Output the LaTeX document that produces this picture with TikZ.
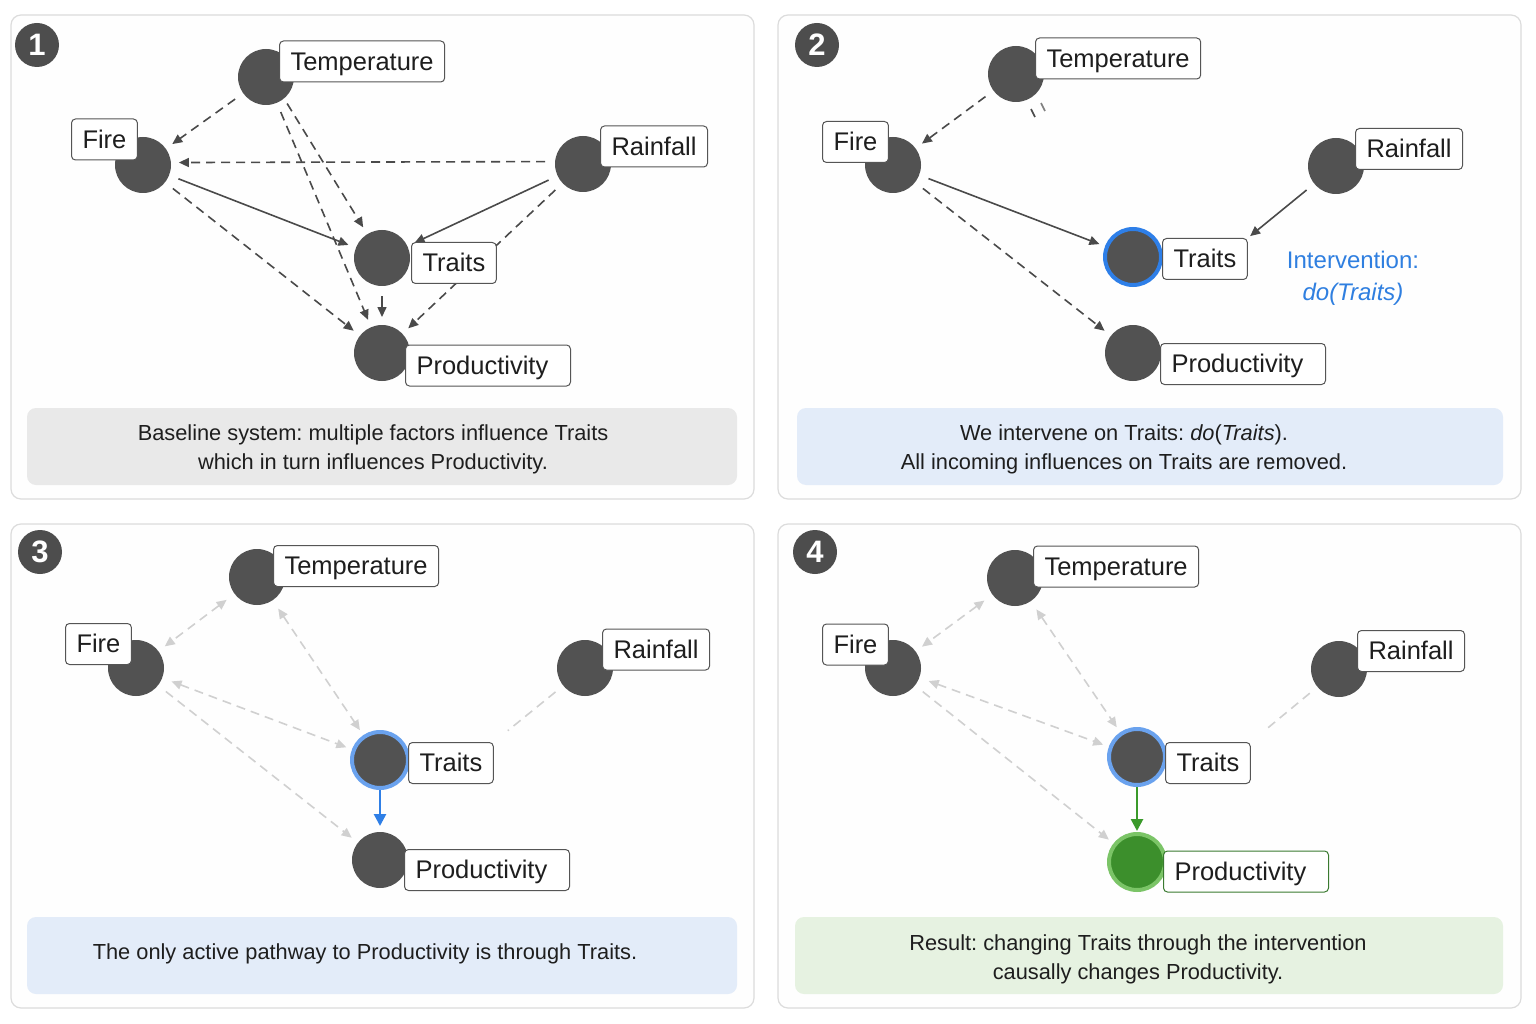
\documentclass[tikz,border=0pt]{standalone}
\usepackage{fontspec}
\setmainfont{Liberation Sans}
\usetikzlibrary{arrows.meta}
\pgfdeclarelayer{panels}
\pgfdeclarelayer{edges}
\pgfsetlayers{panels,edges,main}
\definecolor{dotc}{HTML}{525252}
\definecolor{lblc}{HTML}{555555}
\definecolor{txtc}{HTML}{1E1E1E}
\definecolor{edgec}{HTML}{4A4A4A}
\definecolor{ltc}{HTML}{D0D0D0}
\definecolor{panelborder}{HTML}{DCDCDC}
\definecolor{panelfill}{HTML}{FEFEFE}
\definecolor{capgray}{HTML}{E9E9E9}
\definecolor{capblue}{HTML}{E3ECF9}
\definecolor{capgreen}{HTML}{E6F2E1}
\definecolor{ringblue}{HTML}{2E7FE8}
\definecolor{ringlight}{HTML}{6AA2EE}
\definecolor{arrblue}{HTML}{2F7FE6}
\definecolor{greenfill}{HTML}{3C8F2C}
\definecolor{greenring}{HTML}{7BC467}
\definecolor{greenarr}{HTML}{3A9A2A}
\definecolor{greenlbl}{HTML}{3A7A30}
\definecolor{badgec}{HTML}{4D4D4D}
\definecolor{intblue}{HTML}{2F7FE0}
\frenchspacing
\begin{document}
\begin{tikzpicture}[x=1pt,y=-1pt,
  dot/.style={circle, fill=dotc, minimum size=56pt, inner sep=0pt, outer sep=0pt},
  ringdot/.style={dot, draw=#1, line width=4pt},
  lbl/.style={draw=lblc, fill=white, rounded corners=4pt, line width=1pt,
    inner xsep=11pt, inner ysep=0pt, minimum height=41pt, text height=18.5pt, text depth=1pt,
    anchor=west, text=txtc, font=\fontsize{25.5}{30}\selectfont},
  lblP/.style={lbl, text width=143pt, align=left},
  badge/.style={circle, fill=badgec, minimum size=44pt, inner sep=0pt, text=white,
    font=\fontsize{31}{32}\selectfont\bfseries},
  panelbox/.style={draw=panelborder, fill=panelfill, line width=1.2pt, rounded corners=10pt},
  capt/.style={align=center, text=txtc, font=\fontsize{21.8}{29}\selectfont},
  tip/.style={-{Triangle[length=10pt,width=9pt]}},
  dk/.style={draw=edgec, line width=1.6pt, tip, shorten <=10pt, shorten >=8pt},
  dsh/.style={dk, dash pattern=on 9pt off 6pt},
  lt/.style={draw=ltc, line width=1.6pt, dash pattern=on 9pt off 6pt, shorten <=10pt, shorten >=8pt},
  ltarr/.style={lt, -{Triangle[length=10pt,width=9pt]}},
  ltboth/.style={lt, {Triangle[length=10pt,width=9pt]}-{Triangle[length=10pt,width=9pt]}}
]
\useasboundingbox (0,0) rectangle (1536,1024);
\begin{pgfonlayer}{panels}
\fill[white] (0,0) rectangle (1536,1024);
\draw[panelbox] (11,15) rectangle (754,499);
\draw[panelbox] (778,15) rectangle (1521,499);
\draw[panelbox] (11,524) rectangle (754,1008);
\draw[panelbox] (778,524) rectangle (1521,1008);
\fill[capgray, rounded corners=9pt] (27,408) rectangle (737,485);
\fill[capblue, rounded corners=9pt] (797,408) rectangle (1503,485);
\fill[capblue, rounded corners=9pt] (27,917) rectangle (737,994);
\fill[capgreen, rounded corners=9pt] (795,917) rectangle (1503,994);
\end{pgfonlayer}

% badges
\node[badge] (b1) at (37,45) {1};
\node[badge] (b2) at (817,45) {2};
\node[badge] (b3) at (40,552) {3};
\node[badge] (b4) at (815,552) {4};

% ---------- Panel 1 ----------
\node[dot] (T1) at (266,77) {};
\node[dot] (F1) at (143,165) {};
\node[dot] (R1) at (583,164) {};
\node[dot] (Tr1) at (382,258) {};
\node[dot] (P1) at (382,353) {};
\begin{pgfonlayer}{edges}
\draw[dsh] (T1) -- (F1);
\draw[dsh] (R1.175) -- (F1.5);
\draw[dk] (F1) -- (Tr1);
\draw[dk] (R1) -- (Tr1);
\draw[dsh, shorten <=6pt] (T1.-50) -- (Tr1);
\draw[dsh] (T1) -- (P1);
\draw[dsh] (F1) -- (P1);
\draw[dsh] (R1) -- (P1);
\draw[dk] (Tr1) -- (P1);
\end{pgfonlayer}
\node[lbl] (lT1) at (279,61.5) {Temperature};
\node[lbl] (lF1) at (71,139.5) {Fire};
\node[lbl] (lR1) at (600,146.5) {Rainfall};
\node[lbl] (lTr1) at (411,263) {Traits};
\node[lblP] (lP1) at (405,365.5) {Productivity};
\node[capt] (c1) at (373,449.5) {Baseline system: multiple factors influence Traits\\which in turn influences Productivity.};

% ---------- Panel 2 ----------
\node[dot] (T2) at (1016,74) {};
\node[dot] (F2) at (893,165) {};
\node[dot] (R2) at (1336,166) {};
\node[ringdot=ringblue] (Tr2) at (1133,257) {};
\node[dot] (P2) at (1133,353) {};
\node[lbl] (lT2) at (1035,58.5) {Temperature};
\node[lbl] (lF2) at (822,142) {Fire};
\node[lbl] (lR2) at (1355,149) {Rainfall};
\node[lbl] (lTr2) at (1162,259) {Traits};
\node[lblP] (lP2) at (1160,364) {Productivity};
\begin{pgfonlayer}{edges}
\draw[dsh] (T2) -- (F2);
\draw[dk] (F2) -- (Tr2);
\draw[dk, shorten >=3pt] (R2) -- (lTr2.north east);
\draw[dsh] (F2) -- (P2);
\draw[draw=edgec, line width=1.6pt] (1031,109) -- (1035,117);
\draw[draw=edgec!70, line width=1.6pt] (1041,103) -- (1045,111);
\end{pgfonlayer}
\node[text=intblue, align=center, font=\fontsize{24}{32}\selectfont] (int2) at (1353,278) {Intervention:\\\textit{do(Traits)}};
\node[capt] (c2) at (1124,449.5) {We intervene on Traits: \textit{do}(\textit{Traits}).\\All incoming influences on Traits are removed.};

% ---------- Panel 3 ----------
\node[dot] (T3) at (257,577) {};
\node[dot] (F3) at (136,668) {};
\node[dot] (R3) at (585,668) {};
\node[ringdot=ringlight] (Tr3) at (380,760) {};
\node[dot] (P3) at (380,860) {};
\node[lbl] (lT3) at (273,566) {Temperature};
\node[lbl] (lF3) at (65,644) {Fire};
\node[lbl] (lR3) at (602,649.5) {Rainfall};
\node[lbl] (lTr3) at (408,763) {Traits};
\node[lblP] (lP3) at (404,870) {Productivity};
\begin{pgfonlayer}{edges}
\draw[ltboth] (T3) -- (F3);
\draw[ltboth] (T3) -- (Tr3);
\draw[ltboth] (F3) -- (Tr3);
\draw[ltarr] (F3) -- (P3);
\draw[lt, shorten >=18pt] (R3) -- (lTr3.north east);
\draw[draw=arrblue, line width=2.6pt, -{Triangle[length=12pt,width=12pt]}, shorten <=1pt, shorten >=6pt] (Tr3) -- (P3);
\end{pgfonlayer}
\node[capt] (c3) at (365,954) {The only active pathway to Productivity is through Traits.};

% ---------- Panel 4 ----------
\node[dot] (T4) at (1015,578) {};
\node[dot] (F4) at (893,668) {};
\node[dot] (R4) at (1339,669) {};
\node[ringdot=ringlight] (Tr4) at (1137,757) {};
\node[dot, fill=greenfill, draw=greenring, line width=4pt] (P4) at (1137,862) {};
\node[lbl] (lT4) at (1033,566.5) {Temperature};
\node[lbl] (lF4) at (822,644.5) {Fire};
\node[lbl] (lR4) at (1357,651) {Rainfall};
\node[lbl] (lTr4) at (1165,763) {Traits};
\node[lblP, draw=greenlbl] (lP4) at (1163,871.5) {Productivity};
\begin{pgfonlayer}{edges}
\draw[ltboth] (T4) -- (F4);
\draw[ltboth] (T4) -- (Tr4);
\draw[ltboth] (F4) -- (Tr4);
\draw[ltarr] (F4) -- (P4);
\draw[lt, shorten >=18pt] (R4) -- (lTr4.north east);
\draw[draw=greenarr, line width=2.6pt, -{Triangle[length=12pt,width=12pt]}, shorten <=1pt, shorten >=3pt] (Tr4) -- (P4);
\end{pgfonlayer}
\node[capt] (c4) at (1138,959.5) {Result: changing Traits through the intervention\\causally changes Productivity.};
\end{tikzpicture}
\end{document}
